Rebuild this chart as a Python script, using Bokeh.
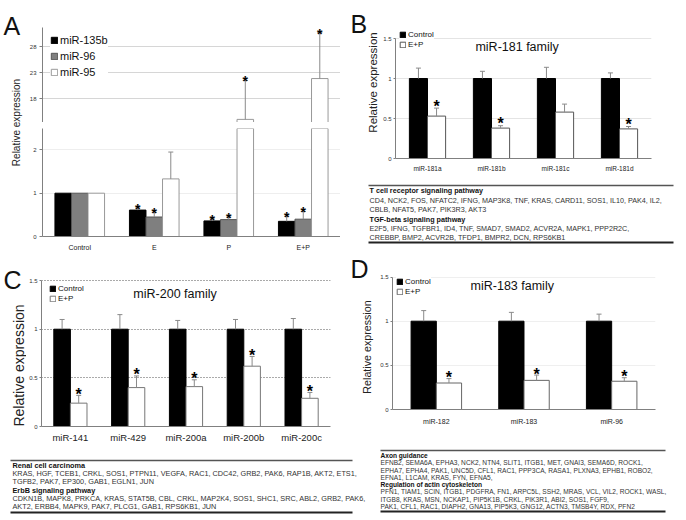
import math
from bokeh.plotting import figure
from bokeh.layouts import row, column
from bokeh.models import (FactorRange, Range1d, FixedTicker, NumeralTickFormatter,
                          Legend, LegendItem, ColumnDataSource)
from bokeh.transform import dodge
from bokeh.core.properties import value
from bokeh.embed import file_html
from bokeh.resources import INLINE

FONT = "Liberation Sans"
NAN = float("nan")

# ---------------- data ----------------
# Panel A
a_groups = ["Control", "E", "P", "E+P"]
a_series = ["miR-135b", "miR-96", "miR-95"]
a_mir135b = [1.0, 0.61, 0.36, 0.35]
a_mir135b_err = [NAN, 0.66, 0.41, 0.47]
a_mir135b_sig = [False, True, True, True]
a_mir96 = [1.0, 0.45, 0.39, 0.40]
a_mir96_err = [NAN, 0.56, 0.45, 0.58]
a_mir96_sig = [False, True, True, True]
a_mir95 = [1.0, 1.33, 14.0, 21.85]
a_mir95_err = [NAN, 1.95, 21.5, 30.7]
a_mir95_sig = [False, False, True, True]
a_upper_ticks = [18, 23, 28]
a_lower_ticks = [0, 1, 2]

# Panel B
b_cats = ["miR-181a", "miR-181b", "miR-181c", "miR-181d"]
b_ctrl = [1.0, 1.0, 1.0, 1.0]
b_ctrl_err = [1.13, 1.09, 1.14, 1.07]
b_ep = [0.53, 0.38, 0.58, 0.37]
b_ep_err = [0.63, 0.41, 0.68, 0.40]
b_sig = [True, True, False, True]

# Panel C
c_cats = ["miR-141", "miR-429", "miR-200a", "miR-200b", "miR-200c"]
c_ctrl = [1.0, 1.0, 1.0, 1.0, 1.0]
c_ctrl_err = [1.10, 1.15, 1.09, 1.10, 1.11]
c_ep = [0.24, 0.40, 0.41, 0.62, 0.29]
c_ep_err = [0.32, 0.52, 0.48, 0.72, 0.35]
c_sig = [True, True, True, True, True]

# Panel D
d_cats = ["miR-182", "miR-183", "miR-96"]
d_ctrl = [1.0, 1.0, 1.0]
d_ctrl_err = [1.12, 1.10, 1.08]
d_ep = [0.30, 0.33, 0.32]
d_ep_err = [0.35, 0.39, 0.36]
d_sig = [True, True, True]

fam_ticks = [0, 0.5, 1, 1.5]
legend_labels = ["Control", "E+P"]
y_label = "Relative expression"

b_table = [
    ("T cell receptor signaling pathway", True),
    ("CD4, NCK2, FOS, NFATC2, IFNG, MAP3K8, TNF, KRAS, CARD11, SOS1, IL10, PAK4, IL2,", False),
    (" CBLB, NFAT5, PAK7, PIK3R3, AKT3", False),
    ("TGF-beta signaling pathway", True),
    ("E2F5, IFNG, TGFBR1, ID4, TNF, SMAD7, SMAD2, ACVR2A, MAPK1, PPP2R2C,", False),
    ("CREBBP, BMP2, ACVR2B, TFDP1, BMPR2, DCN, RPS6KB1", False),
]
c_table = [
    ("Renal cell carcinoma", True),
    ("KRAS, HGF, TCEB1, CRKL, SOS1, PTPN11, VEGFA, RAC1, CDC42, GRB2, PAK6, RAP1B, AKT2, ETS1,", False),
    ("TGFB2, PAK7, EP300, GAB1, EGLN1, JUN", False),
    ("ErbB signaling pathway", True),
    ("CDKN1B, MAPK8, PRKCA, KRAS, STAT5B, CBL, CRKL, MAP2K4, SOS1, SHC1, SRC, ABL2, GRB2, PAK6,", False),
    ("AKT2, ERBB4, MAPK9, PAK7, PLCG1, GAB1, RPS6KB1, JUN", False),
]
d_table = [
    ("Axon guidance", True),
    ("EFNB2, SEMA6A, EPHA3, NCK2, NTN4, SLIT1, ITGB1, MET, GNAI3, SEMA6D, ROCK1,", False),
    ("EPHA7, EPHA4, PAK1, UNC5D, CFL1, RAC1, PPP3CA, RASA1, PLXNA3, EPHB1, ROBO2,", False),
    ("EFNA1, L1CAM, KRAS, FYN, EFNA5,", False),
    ("Regulation of actin cytoskeleton", True),
    ("PFN1, TIAM1, SCIN, ITGB1, PDGFRA, FN1, ARPC5L, SSH2, MRAS, VCL, VIL2, ROCK1, WASL,", False),
    ("ITGB8, KRAS, MSN, NCKAP1, PIP5K1B, CRKL, PIK3R1, ABI2, SOS1, FGF9,", False),
    ("PAK1, CFL1, RAC1, DIAPH2, GNA13, PIP5K3, GNG12, ACTN3, TMSB4Y, RDX, PFN2", False),
]

AXIS = "#808080"
ERR = "#8a8a8a"
TXT = "#333333"


def base_fig(**kw):
    p = figure(output_backend="svg", toolbar_location=None, frame_align=False, **kw)
    p.outline_line_color = None
    return p


def bar_fig(cats, w, h, y0, y1, bl, br, bt, bb, x_axis=True):
    p = base_fig(width=w, height=h,
                 x_range=FactorRange(factors=cats, range_padding=0, factor_padding=0),
                 y_range=Range1d(y0, y1),
                 x_axis_location="below" if x_axis else None,
                 min_border_left=bl, min_border_right=br, min_border_top=bt, min_border_bottom=bb)
    p.xgrid.visible = False
    p.yaxis.axis_line_color = AXIS
    p.yaxis.major_tick_line_color = AXIS
    p.yaxis.major_tick_in = 0
    p.yaxis.major_tick_out = 2
    p.yaxis.minor_tick_line_color = None
    p.yaxis.major_label_standoff = 2
    p.yaxis.major_label_text_font = FONT
    p.yaxis.major_label_text_font_size = "6px"
    p.yaxis.major_label_text_color = TXT
    p.yaxis.formatter = NumeralTickFormatter(format="0.[0]")
    if x_axis:
        p.xaxis.axis_line_color = AXIS
        p.xaxis.major_tick_line_color = None
        p.xaxis.major_tick_in = 0
        p.xaxis.major_tick_out = 0
        p.xaxis.major_label_text_font = FONT
        p.xaxis.major_label_text_color = "#222222"
    return p


def add_series(p, cats, vals, errs, sig, offset, width, fill, line, star_size, star_off, ylim):
    lo, hi = ylim
    stars = ["*" if (s and lo <= e <= hi) else "" for s, e in zip(sig, errs)]
    src = ColumnDataSource(dict(cat=cats, val=vals, err=errs, star=stars))
    x = dodge("cat", offset, range=p.x_range)
    r = p.vbar(x=x, top="val", width=width, source=src, fill_color=fill,
               line_color=line, line_width=1)
    p.segment(x0=x, y0="val", x1=x, y1="err", source=src, line_color=ERR, line_width=1)
    p.scatter(x=x, y="err", marker="dash", size=5, source=src, line_color=ERR, line_width=1)
    p.text(x=x, y="err", text="star", source=src, text_font=value(FONT),
           text_font_size=star_size, text_font_style="bold", text_align="center",
           text_baseline="alphabetic", y_offset=star_off, text_color="black")
    return r


def make_legend(p, renderers, labels, fs, gsize, lh, margin, padding, bg_alpha=1.0,
                top_pad=None):
    kw = {}
    if top_pad is not None:
        # an empty legend title used only as extra room above the items
        kw = dict(title=" ", title_text_font_size=top_pad, title_standoff=1)
    leg = Legend(items=[LegendItem(label=l, renderers=[r]) for l, r in zip(labels, renderers)],
                 location="top_left", label_text_font=FONT, label_text_font_size=fs,
                 label_text_color="#111111", glyph_width=gsize, glyph_height=gsize,
                 label_height=lh, label_standoff=2, spacing=0, padding=padding,
                 margin=margin, background_fill_color="white",
                 background_fill_alpha=bg_alpha, border_line_color=None, **kw)
    p.add_layout(leg)


def family_title(p, x, y, text):
    p.text(x=[x], y=[y], text=[text], text_font=value(FONT), text_font_size="12.5px",
           text_align="center", text_baseline="middle", text_color="#111111")


def lab_fig(w, h, letter, lx, ly, cx, cy, ysize):
    """Side strip holding the panel letter and the rotated y-axis title (pixel coords)."""
    p = base_fig(width=w, height=h, x_range=Range1d(0, w), y_range=Range1d(h, 0),
                 x_axis_location=None, y_axis_location=None, min_border=0,
                 min_border_left=0, min_border_right=0, min_border_top=0, min_border_bottom=0)
    p.grid.visible = False
    p.text(x=[lx], y=[ly], text=[letter], text_font=value(FONT), text_font_size="25px",
           text_baseline="alphabetic", text_color="#111111")
    p.text(x=[cx], y=[cy], text=[y_label], angle=math.pi / 2, text_font=value(FONT),
           text_font_size=ysize, text_align="center", text_baseline="middle",
           text_color="#222222")
    return p


# ---------------- Panel A ----------------
labA = lab_fig(24, 255, "A", 3, 25, 16, 122, "10px")

a_w, a_off = 0.222, [-0.222, 0.0, 0.222]
a_fills = ["black", "#7f7f7f", "white"]
a_lines = ["black", "#555555", "#999999"]
a_vals = [a_mir135b, a_mir96, a_mir95]
a_errs = [a_mir135b_err, a_mir96_err, a_mir95_err]
a_sigs = [a_mir135b_sig, a_mir96_sig, a_mir95_sig]

A_up = bar_fig(a_groups, 316, 122, 13.4, 33.4, 18, 0, 18, 0, x_axis=False)
A_up.yaxis.ticker = FixedTicker(ticks=a_upper_ticks)
A_up.yaxis.bounds = (13.4, 31.7)
A_up.yaxis.major_tick_out = 3
A_up.yaxis.major_label_standoff = 3
A_up.ygrid.grid_line_color = "#d6d6d6"
rA = []
for i in range(3):
    rA.append(add_series(A_up, a_groups, a_vals[i], a_errs[i], a_sigs[i], a_off[i], a_w,
                         a_fills[i], a_lines[i], "14px", 1, (13.4, 33.4)))
make_legend(A_up, rA, a_series, "11px", 8, 16, 8, 4, top_pad="4px")

A_low = bar_fig(a_groups, 316, 133, 0, 2.494, 18, 0, 6, 19)
A_low.yaxis.ticker = FixedTicker(ticks=a_lower_ticks)
A_low.yaxis.major_tick_out = 3
A_low.yaxis.major_label_standoff = 3
A_low.ygrid.grid_line_color = "#eeeeee"
A_low.xaxis.major_label_text_font_size = "7px"
A_low.xaxis.major_label_standoff = 7
for i in range(3):
    add_series(A_low, a_groups, a_vals[i], a_errs[i], a_sigs[i], a_off[i], a_w,
               a_fills[i], a_lines[i], "14px", 1, (0, 2.4))

# ---------------- Panel C ----------------
labC = lab_fig(26, 193, "C", 3, 24, 18, 110, "14px")
C = bar_fig(c_cats, 314, 193, 0, 1.552, 14, 10, 20, 22)
C.yaxis.ticker = FixedTicker(ticks=fam_ticks)
C.yaxis.bounds = (0, 1.5)
C.ygrid.grid_line_color = "#555555"
C.ygrid.grid_line_dash = "1 2"
C.xaxis.major_label_text_font_size = "9.5px"
C.xaxis.major_label_standoff = 5
rc1 = add_series(C, c_cats, c_ctrl, c_ctrl_err, [False] * 5, -0.1435, 0.287, "black", "black", "16px", -1, (0, 1.55))
rc2 = add_series(C, c_cats, c_ep, c_ep_err, c_sig, 0.1435, 0.287, "white", "#777777", "16px", -1, (0, 1.55))
make_legend(C, [rc1, rc2], legend_labels, "8px", 7, 10, 8, 4, bg_alpha=0.0)
family_title(C, 2.31, 1.364, "miR-200 family")

# ---------------- Panel B ----------------
labB = lab_fig(40, 182, "B", 10, 23, 32.5, 82, "11.5px")
B = bar_fig(b_cats, 306, 182, 0, 1.6625, 12, 35, 25, 24)
B.yaxis.ticker = FixedTicker(ticks=fam_ticks)
B.yaxis.bounds = (0, 1.5)
B.ygrid.grid_line_color = "#e4e4e4"
B.xaxis.major_label_text_font_size = "6.5px"
B.xaxis.major_label_standoff = 6
rb1 = add_series(B, b_cats, b_ctrl, b_ctrl_err, [False] * 4, -0.1415, 0.283, "black", "black", "16px", -2, (0, 1.66))
rb2 = add_series(B, b_cats, b_ep, b_ep_err, b_sig, 0.1415, 0.283, "white", "#555555", "16px", -2, (0, 1.66))
make_legend(B, [rb1, rb2], legend_labels, "8px", 7, 10, 4, 3)
family_title(B, 1.9, 1.39, "miR-181 family")

# ---------------- Panel D ----------------
labD = lab_fig(37, 196, "D", 10, 16, 26, 94.5, "10.7px")
D = bar_fig(d_cats, 309, 196, 0, 1.5515, 12, 31, 20, 39)
D.yaxis.ticker = FixedTicker(ticks=fam_ticks)
D.yaxis.bounds = (0, 1.5)
D.ygrid.grid_line_color = "#efefef"
D.xaxis.major_label_text_font_size = "7px"
D.xaxis.major_label_standoff = 8
rd1 = add_series(D, d_cats, d_ctrl, d_ctrl_err, [False] * 3, -0.144, 0.288, "black", "black", "16px", -1, (0, 1.55))
rd2 = add_series(D, d_cats, d_ep, d_ep_err, d_sig, 0.144, 0.288, "white", "#666666", "16px", -1, (0, 1.55))
make_legend(D, [rd1, rd2], legend_labels, "8px", 7, 10, 4, 3)
family_title(D, 1.366, 1.404, "miR-183 family")


# ---------------- gene tables ----------------
def table_fig(w, h, rows, x_text, ys, rule_x0, rule_x1, y_top, y_bot, fs):
    p = base_fig(width=w, height=h, x_range=Range1d(0, w), y_range=Range1d(h, 0),
                 x_axis_location=None, y_axis_location=None, min_border=0,
                 min_border_left=0, min_border_right=0, min_border_top=0, min_border_bottom=0)
    p.grid.visible = False
    for (txt, bold), y in zip(rows, ys):
        p.text(x=[x_text], y=[y], text=[txt], text_font=value(FONT), text_font_size=fs,
               text_font_style="bold" if bold else "normal", text_baseline="middle",
               text_color="#111111" if bold else "#333333")
    p.segment(x0=[rule_x0], y0=[y_top], x1=[rule_x1], y1=[y_top], line_color="#555555", line_width=1.5)
    p.segment(x0=[rule_x0], y0=[y_bot], x1=[rule_x1], y1=[y_bot], line_color="#222222", line_width=2)
    return p


TB = table_fig(346, 70, b_table, 29, [8, 17.5, 27, 36.5, 45.5, 54.5], 28, 333, 3, 60, "7.2px")
TC = table_fig(375, 68, c_table, 12, [16.5, 25, 33, 41.5, 50, 58], 10, 352, 12, 64, "7.3px")
TD = table_fig(311, 68, d_table, 5, [7, 14, 21.5, 28.5, 36, 43, 50.5, 57.5], 5, 290, 2, 63, "6.6px")

left = column(row(labA, column(A_up, A_low)), row(labC, C))
right = column(row(labB, B), TB, row(labD, D))
layout = column(row(left, right), row(TC, TD))

open("out.html", "w").write(file_html(layout, INLINE))
